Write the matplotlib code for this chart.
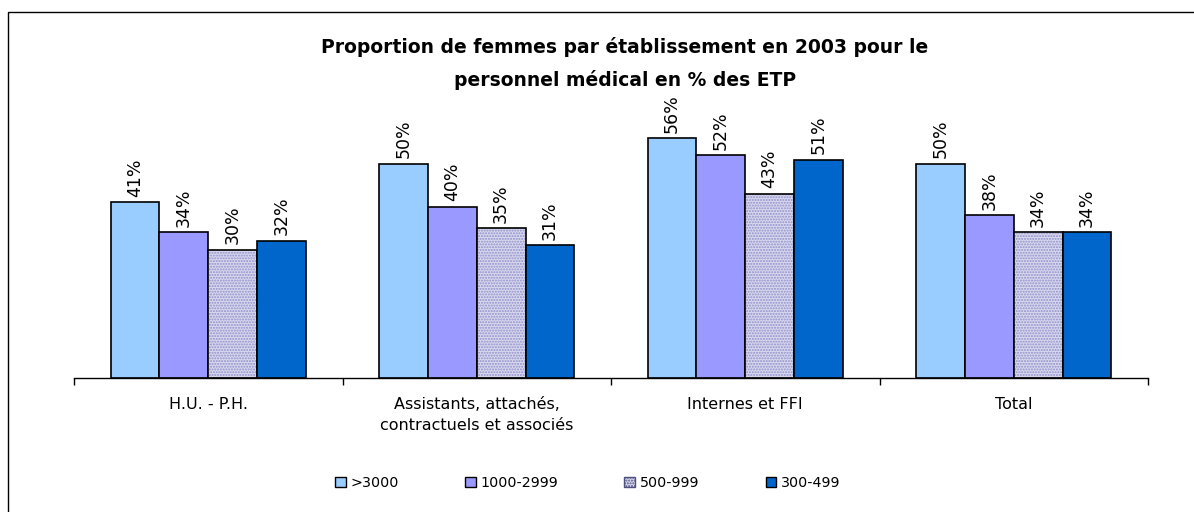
import matplotlib
matplotlib.use('Agg')
import matplotlib.pyplot as plt
from matplotlib.patches import Rectangle, Patch
import numpy as np

plt.rcParams['font.family'] = ['DejaVu Sans']
plt.rcParams['hatch.linewidth'] = 1.0

categories = ['H.U. - P.H.', 'Assistants, attachés,\ncontractuels et associés',
              'Internes et FFI', 'Total']
series = ['>3000', '1000-2999', '500-999', '300-499']
values = {
    '>3000': [41, 50, 56, 50],
    '1000-2999': [34, 40, 52, 38],
    '500-999': [30, 35, 43, 34],
    '300-499': [32, 31, 51, 34],
}
colors = {'>3000': '#99CCFF', '1000-2999': '#9999FF', '500-999': '#D8D8EE', '300-499': '#0066CC'}
dot_color = '#9090CA'

W, H = 1194, 512
fig = plt.figure(figsize=(W / 100, H / 100), dpi=100)
fig.patches.append(Rectangle((8 / W, -0.1), 1.2, 1 - 12 / H + 0.1, transform=fig.transFigure,
                             fill=False, edgecolor='black', linewidth=1))

ax = fig.add_axes([74 / W, 1 - 378 / H, (1148 - 74) / W, (378 - 121) / H])
x = np.arange(len(categories))
width = 0.182
for i, s in enumerate(series):
    pos = x + (i - 1.5) * width
    vals = np.array(values[s]) / 100
    if s == '500-999':
        ax.bar(pos, vals, width, color=colors[s], hatch='......', edgecolor=dot_color, linewidth=0)
        ax.bar(pos, vals, width, fill=False, edgecolor='black', linewidth=1.2)
    else:
        ax.bar(pos, vals, width, color=colors[s], edgecolor='black', linewidth=1.2)
    for px, v in zip(pos, values[s]):
        ax.annotate(f'{v}%', (px, v / 100), xytext=(0, 4), textcoords='offset points',
                    rotation=90, ha='center', va='bottom', fontsize=12.5)

ax.set_xlim(-0.5, 3.5)
ax.set_ylim(0, 0.6)
ax.set_yticks([])
for sp in ['left', 'right', 'top']:
    ax.spines[sp].set_visible(False)
ax.spines['bottom'].set_linewidth(1)
ax.set_xticks(x)
ax.set_xticklabels(categories, fontsize=11.5, linespacing=1.5)
ax.tick_params(axis='x', which='major', length=0, pad=14)
ax.set_xticks(np.arange(-0.5, 4, 1), minor=True)
ax.tick_params(axis='x', which='minor', length=5, width=1)

fig.text(625 / W, 1 - 47 / H, 'Proportion de femmes par établissement en 2003 pour le',
         ha='center', va='center', fontsize=13.5, fontweight='bold')
fig.text(625 / W, 1 - 80 / H, 'personnel médical en % des ETP',
         ha='center', va='center', fontsize=13.5, fontweight='bold')

handles = []
for s in series:
    if s == '500-999':
        handles.append(Patch(facecolor=colors[s], hatch='......', edgecolor='#505080', linewidth=1))
    else:
        handles.append(Patch(facecolor=colors[s], edgecolor='black', linewidth=1))
fig.legend(handles, series, loc='center', bbox_to_anchor=(588 / W, 1 - 483 / H), ncol=4,
           frameon=False, fontsize=10.3, handlelength=0.75, handleheight=0.75,
           handletextpad=0.35, columnspacing=4.6)

fig.savefig('out.png', dpi=100)
